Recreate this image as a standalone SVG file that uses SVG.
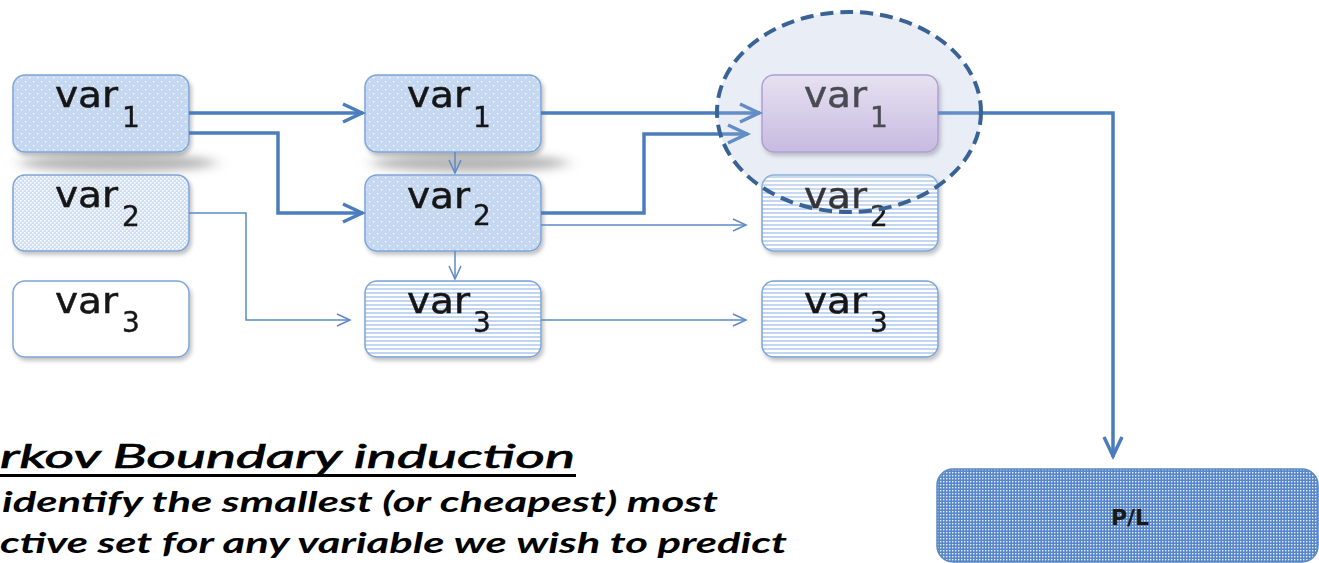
<svg xmlns="http://www.w3.org/2000/svg" width="1319" height="563" viewBox="0 0 1319 563">
  <style>
    .box { stroke: #7ea5d8; stroke-width: 1.5; }
    .v { font-family: "DejaVu Sans", Verdana, sans-serif; font-size: 35px; fill: #141414; stroke: #141414; stroke-width: 0.5; }
    .s { font-family: "DejaVu Sans", Verdana, sans-serif; font-size: 28px; fill: #141414; stroke: #141414; stroke-width: 0.4; }
    .dim { fill: #2e2e36; stroke: #2e2e36; }
    .thick { fill: none; stroke: #4a7dbd; stroke-width: 3.5; stroke-linejoin: miter; }
    .thin { fill: none; stroke: #5b8ac7; stroke-width: 1.5; }
    .cap { font-family: Lato, "Open Sans", sans-serif; fill: #000; font-style: italic; }
  </style>
  <defs>
    <!-- light blue with white dots -->
    <pattern id="dotsA" width="8" height="8" patternUnits="userSpaceOnUse">
      <rect width="8" height="8" fill="#c6d8f0"/>
      <rect x="1" y="1" width="1.3" height="1.3" fill="#ffffff"/>
      <rect x="5" y="5" width="1.3" height="1.3" fill="#ffffff"/>
    </pattern>
    <!-- dense speckle -->
    <pattern id="dotsB" width="4" height="4" patternUnits="userSpaceOnUse">
      <rect width="4" height="4" fill="#cddef3"/>
      <rect x="0" y="0" width="1.6" height="1.6" fill="#ffffff"/>
      <rect x="2" y="2" width="1.6" height="1.6" fill="#ffffff"/>
    </pattern>
    <!-- horizontal stripes -->
    <pattern id="stripes" width="4" height="4" patternUnits="userSpaceOnUse">
      <rect width="4" height="4" fill="#ffffff"/>
      <rect y="0" width="4" height="2" fill="#c3d6ef"/>
    </pattern>
    <!-- blue grid for P/L -->
    <pattern id="grid" width="3" height="3" patternUnits="userSpaceOnUse">
      <rect width="3" height="3" fill="#5787c8"/>
      <rect x="1" y="1" width="1.4" height="1.4" fill="#e6eef8"/>
    </pattern>
    <linearGradient id="purple" x1="0" y1="0" x2="0" y2="1">
      <stop offset="0" stop-color="#e6e0f1"/>
      <stop offset="1" stop-color="#c2b2dd"/>
    </linearGradient>
    <filter id="drop" x="-10%" y="-10%" width="125%" height="130%">
      <feGaussianBlur in="SourceAlpha" stdDeviation="2"/>
      <feOffset dx="1.5" dy="2.5" result="b"/>
      <feComponentTransfer><feFuncA type="linear" slope="0.25"/></feComponentTransfer>
      <feMerge><feMergeNode/><feMergeNode in="SourceGraphic"/></feMerge>
    </filter>
    <filter id="soft" x="-30%" y="-200%" width="160%" height="500%">
      <feGaussianBlur stdDeviation="8 5"/>
    </filter>
    <marker id="headThick" markerUnits="userSpaceOnUse" viewBox="-24 -12 28 24" refX="0" refY="0" markerWidth="28" markerHeight="24" orient="auto">
      <path d="M-20,-9 L-1,0 L-20,9" fill="none" stroke="#4a7dbd" stroke-width="3.5"/>
    </marker>
    <marker id="headThin" markerUnits="userSpaceOnUse" viewBox="-16 -8 18 16" refX="0" refY="0" markerWidth="18" markerHeight="16" orient="auto">
      <path d="M-13,-6 L0,0 L-13,6" fill="none" stroke="#5b8ac7" stroke-width="1.5"/>
    </marker>
  </defs>

  <rect width="1319" height="563" fill="#ffffff"/>

  <!-- soft cast shadows under the top row -->
  <g id="shadows" fill="#6e6e6e" opacity="0.5">
    <ellipse cx="118" cy="163" rx="98" ry="9" filter="url(#soft)"/>
    <ellipse cx="470" cy="163" rx="98" ry="9" filter="url(#soft)"/>
  </g>

  <!-- boundary fill, behind the nodes -->
  <ellipse id="boundaryFill" cx="849" cy="112" rx="132" ry="100" fill="#e9eef6"/>

  <!-- column 1 -->
  <g id="c1r1" filter="url(#drop)">
    <rect class="box" x="13" y="75" width="176" height="77" rx="12" fill="url(#dotsA)"/>
    <text class="v" x="55" y="107" textLength="63" lengthAdjust="spacingAndGlyphs">var</text><text class="s" x="122" y="127">1</text>
  </g>
  <g id="c1r2" filter="url(#drop)">
    <rect class="box" x="13" y="175" width="176" height="76" rx="12" fill="url(#dotsB)"/>
    <text class="v" x="55" y="207" textLength="63" lengthAdjust="spacingAndGlyphs">var</text><text class="s" x="122" y="226">2</text>
  </g>
  <g id="c1r3" filter="url(#drop)">
    <rect class="box" x="13" y="281" width="176" height="76" rx="12" fill="#ffffff"/>
    <text class="v" x="55" y="313" textLength="63" lengthAdjust="spacingAndGlyphs">var</text><text class="s" x="122" y="332">3</text>
  </g>

  <!-- column 2 -->
  <g id="c2r1" filter="url(#drop)">
    <rect class="box" x="365" y="75" width="176" height="77" rx="12" fill="url(#dotsA)"/>
    <text class="v" x="407" y="107" textLength="63" lengthAdjust="spacingAndGlyphs">var</text><text class="s" x="473" y="127">1</text>
  </g>
  <g id="c2r2" filter="url(#drop)">
    <rect class="box" x="365" y="175" width="176" height="76" rx="12" fill="url(#dotsA)"/>
    <text class="v" x="407" y="208" textLength="63" lengthAdjust="spacingAndGlyphs">var</text><text class="s" x="473" y="225">2</text>
  </g>
  <g id="c2r3" filter="url(#drop)">
    <rect class="box" x="365" y="281" width="176" height="76" rx="12" fill="url(#stripes)"/>
    <text class="v" x="407" y="313" textLength="63" lengthAdjust="spacingAndGlyphs">var</text><text class="s" x="473" y="332">3</text>
  </g>

  <!-- column 3 -->
  <g id="c3r1" filter="url(#drop)">
    <rect x="762" y="75" width="176" height="77" rx="12" fill="url(#purple)" stroke="#a494ca" stroke-width="1.5"/>
    <text class="v dim" x="804" y="107" textLength="63" lengthAdjust="spacingAndGlyphs">var</text><text class="s dim" x="870" y="127">1</text>
  </g>
  <g id="c3r2" filter="url(#drop)">
    <rect class="box" x="762" y="175" width="176" height="76" rx="12" fill="url(#stripes)"/>
    <text class="v" x="804" y="208" textLength="63" lengthAdjust="spacingAndGlyphs">var</text><text class="s" x="870" y="226">2</text>
  </g>
  <g id="c3r3" filter="url(#drop)">
    <rect class="box" x="762" y="281" width="176" height="76" rx="12" fill="url(#stripes)"/>
    <text class="v" x="804" y="313" textLength="63" lengthAdjust="spacingAndGlyphs">var</text><text class="s" x="870" y="332">3</text>
  </g>

  <!-- target node -->
  <g id="pl">
    <rect x="937" y="469" width="381" height="93" rx="16" fill="url(#grid)" stroke="#5a88c4" stroke-width="1.5"/>
    <text x="1130" y="525" text-anchor="middle" font-family="DejaVu Sans, Verdana, sans-serif" font-weight="bold" font-size="22" fill="#1a1a1a">P/L</text>
  </g>

  <!-- connectors -->
  <g id="connectors">
    <path class="thick" d="M189,113 H363" marker-end="url(#headThick)"/>
    <path class="thick" d="M189,133 H278 V213 H363" marker-end="url(#headThick)"/>
    <path class="thick" d="M541,113 H760" marker-end="url(#headThick)"/>
    <path class="thick" d="M541,213 H644 V134 H748" marker-end="url(#headThick)"/>
    <path class="thick" d="M938,113 H1113 V457" marker-end="url(#headThick)"/>
    <path class="thin" d="M541,225 H746" marker-end="url(#headThin)"/>
    <path class="thin" d="M189,213 H246 V320 H350" marker-end="url(#headThin)"/>
    <path class="thin" d="M541,320 H746" marker-end="url(#headThin)"/>
    <path class="thin" d="M455,152 V173" marker-end="url(#headThin)"/>
    <path class="thin" d="M455,251 V279" marker-end="url(#headThin)"/>
  </g>

  <!-- boundary outline with a light veil over what it encloses -->
  <g id="boundary">
    <ellipse cx="849" cy="112" rx="132" ry="100" fill="#e9eef6" fill-opacity="0.15" stroke="#3a6395" stroke-width="4" stroke-dasharray="13 7"/>
  </g>

  <!-- caption -->
  <g id="caption">
    <text class="cap" x="0" y="468" font-size="32" stroke="#000" stroke-width="0.7" textLength="575" lengthAdjust="spacingAndGlyphs">rkov Boundary induction</text>
    <rect x="0" y="474" width="576" height="3" fill="#000"/>
    <text class="cap" x="2" y="512" font-size="28" font-weight="bold" textLength="716" lengthAdjust="spacingAndGlyphs">identify the smallest (or cheapest) most</text>
    <text class="cap" x="0" y="553" font-size="28" font-weight="bold" textLength="787" lengthAdjust="spacingAndGlyphs">ctive set for any variable we wish to predict</text>
  </g>
</svg>
